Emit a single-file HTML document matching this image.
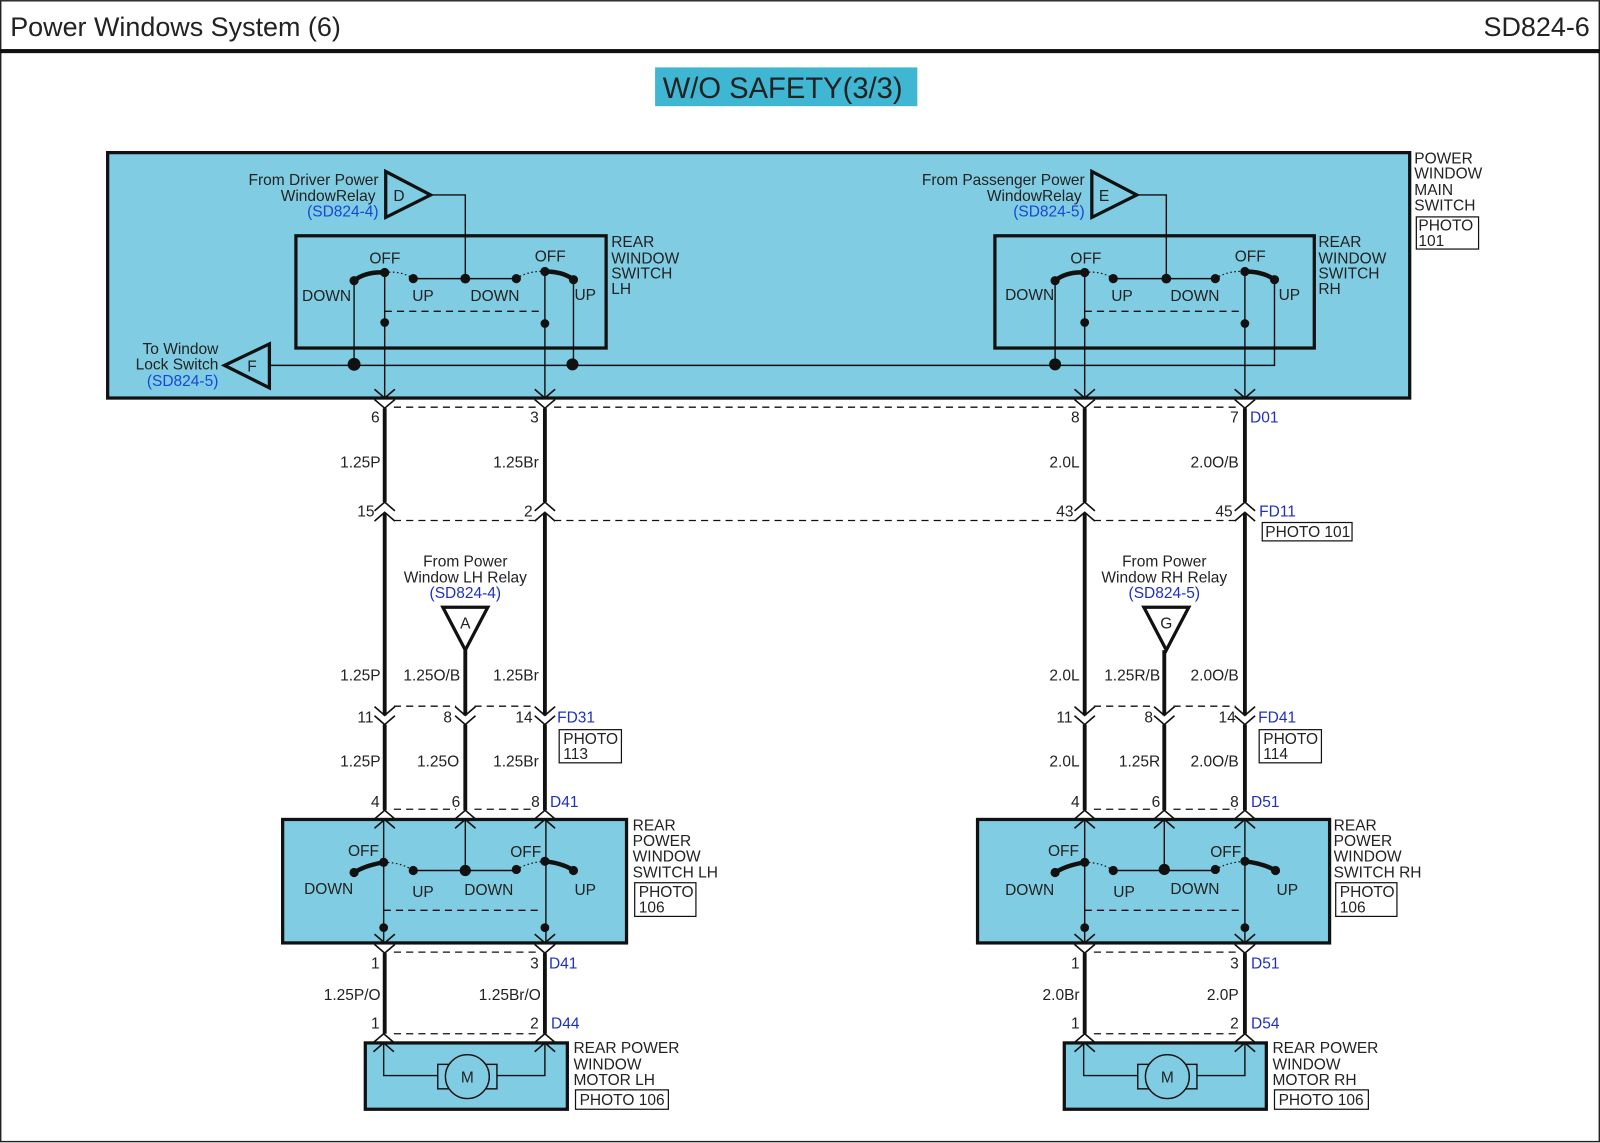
<!DOCTYPE html>
<html><head><meta charset="utf-8"><title>Power Windows System (6)</title>
<style>
html,body{margin:0;padding:0;background:#fff;width:1600px;height:1143px;overflow:hidden}
svg{display:block}
text{font-family:"Liberation Sans",sans-serif;font-size:15.2px;fill:#222}
.b{fill:#1f2fc0}.bb{fill:#1a45d8}
.e{text-anchor:end}.m{text-anchor:middle}
.box{fill:#80cde3;stroke:#111;stroke-width:3.2}
.sw{fill:none;stroke:#111;stroke-width:3.2}
.t{fill:#80cde3;stroke:#111;stroke-width:3.2;stroke-linejoin:miter}
.th{fill:none;stroke:#111;stroke-width:1.4}
.w{fill:none;stroke:#111;stroke-width:3.8}
.d{fill:none;stroke:#111;stroke-width:1.3;stroke-dasharray:7 5}
.dot{fill:none;stroke:#111;stroke-width:1.2;stroke-dasharray:1.5 2.5}
.arc{fill:none;stroke:#111;stroke-width:4.4}
.ch{fill:none;stroke:#111;stroke-width:1.6}
.ph{fill:#fff;stroke:#111;stroke-width:1.2}
</style></head><body>
<svg xmlns="http://www.w3.org/2000/svg" width="1600" height="1143" viewBox="0 0 1568 1120">
<defs>
<path id="v" class="ch" d="M-10,-8.6 L0,0 L10,-8.6"/>
<path id="a" class="ch" d="M-10,8.6 L0,0 L10,8.6"/>
</defs>
<rect x="0.7" y="0.7" width="1566.6" height="1118" fill="none" stroke="#222" stroke-width="1.4"/>
<rect x="0" y="48" width="1568" height="4" fill="#111"/>
<text x="10" y="35" style="font-size:26.4px">Power Windows System (6)</text>
<text x="1558" y="35" class="e" style="font-size:26.4px">SD824-6</text>
<rect x="642" y="66" width="257" height="38" fill="#3fb6d2"/>
<text x="767" y="96" class="m" style="font-size:28.6px">W/O SAFETY(3/3)</text>

<!-- main box -->
<rect class="box" x="105.5" y="149.5" width="1276" height="240.5"/>
<rect class="sw" x="290" y="231" width="304" height="110"/>
<rect class="sw" x="975" y="231" width="313" height="110"/>
<polygon class="t" points="378,168 378,213 422,191"/>
<text x="391" y="197" class="m">D</text>
<polygon class="t" points="1070,168 1070,213 1114,191"/>
<text x="1082" y="197" class="m">E</text>
<polygon class="t" points="264,337 264,380 220,358"/>
<text x="247" y="364" class="m">F</text>
<path class="th" d="M422,191H456V273M405,273H506M347,275V357M377,267V390M534,266V390M562,274V358"/>
<path class="th" d="M1114,191H1143V273M1091,273H1191M1034,275V357M1063,267V390M1220,266V390"/>
<path class="th" d="M264,358H1249V274"/>
<path class="d" d="M377,305H530M1063,305H1216"/>
<path class="dot" d="M377,267Q393,265 405,273M506,273Q518,265 534,266M1063,267Q1079,265 1091,273M1191,273Q1203,265 1220,266"/>
<path class="arc" d="M347,275Q358,266 377,267M534,266Q552,266 562,274M1034,275Q1045,266 1063,267M1220,266Q1238,266 1249,274"/>
<g fill="#111" stroke="#111" stroke-width="1">
<circle cx="347" cy="275" r="4"/><circle cx="377" cy="267" r="4"/><circle cx="405" cy="273" r="4"/><circle cx="456" cy="273" r="4.3"/><circle cx="506" cy="273" r="4"/><circle cx="534" cy="266" r="4"/><circle cx="562" cy="274" r="4"/>
<circle cx="377" cy="316" r="3.8"/><circle cx="534" cy="317" r="3.8"/><circle cx="347" cy="357" r="5.8"/><circle cx="561" cy="357" r="5.4"/>
<circle cx="1034" cy="275" r="4"/><circle cx="1063" cy="267" r="4"/><circle cx="1091" cy="273" r="4"/><circle cx="1143" cy="273" r="4.3"/><circle cx="1191" cy="273" r="4"/><circle cx="1220" cy="266" r="4"/><circle cx="1249" cy="274" r="4"/>
<circle cx="1063" cy="316" r="3.8"/><circle cx="1220" cy="317" r="3.8"/><circle cx="1034" cy="357" r="5.4"/>
</g>
<text x="371" y="181" class="e">From Driver Power</text><text x="368" y="197" class="e">WindowRelay</text><text x="371" y="212" class="e bb">(SD824-4)</text>
<text x="1063" y="181" class="e">From Passenger Power</text><text x="1060" y="197" class="e">WindowRelay</text><text x="1063" y="212" class="e bb">(SD824-5)</text>
<text x="214" y="347" class="e">To Window</text><text x="214" y="362" class="e">Lock Switch</text><text x="214" y="378" class="e bb">(SD824-5)</text>
<text x="599" y="242">REAR</text><text x="599" y="258">WINDOW</text><text x="599" y="273">SWITCH</text><text x="599" y="288">LH</text>
<text x="1292" y="242">REAR</text><text x="1292" y="258">WINDOW</text><text x="1292" y="273">SWITCH</text><text x="1292" y="288">RH</text>
<text x="1386" y="160">POWER</text><text x="1386" y="175">WINDOW</text><text x="1386" y="191">MAIN</text><text x="1386" y="206">SWITCH</text>
<rect class="ph" x="1388" y="212.5" width="61" height="31.5"/><text x="1390" y="226">PHOTO</text><text x="1390" y="241">101</text>
<text x="362" y="258">OFF</text><text x="524" y="256">OFF</text><text x="296" y="295">DOWN</text><text x="404" y="295">UP</text><text x="461" y="295">DOWN</text><text x="563" y="294">UP</text>
<text x="1049" y="258">OFF</text><text x="1210" y="256">OFF</text><text x="985" y="294">DOWN</text><text x="1089" y="295">UP</text><text x="1147" y="295">DOWN</text><text x="1253" y="294">UP</text>

<!-- wires -->
<path class="w" d="M377,400V492M534,400V492M1063,400V492M1220,400V492M377,503V701M534,503V701M1063,503V701M1220,503V701M377,710V794M534,710V794M1063,710V794M1220,710V794M456,637V701M456,710V794M1141,637V701M1141,710V794M377,934V1013M534,934V1013M1063,934V1013M1220,934V1013"/>
<path class="d" d="M386,399H525M543,399H1054M1072,399H1211M386,510H525M543,510H1054M1072,510H1211M386,692H447M465,692H525M1072,692H1132M1150,692H1211M386,793H447M465,793H525M1072,793H1132M1150,793H1211M386,933H525M1072,933H1211M386,1013H525M1072,1013H1211"/>
<g>
<use href="#v" x="377" y="390"/><use href="#v" x="377" y="400"/><use href="#v" x="534" y="390"/><use href="#v" x="534" y="400"/><use href="#v" x="1063" y="390"/><use href="#v" x="1063" y="400"/><use href="#v" x="1220" y="390"/><use href="#v" x="1220" y="400"/>
<use href="#a" x="377" y="492"/><use href="#a" x="377" y="502"/><use href="#a" x="534" y="492"/><use href="#a" x="534" y="502"/><use href="#a" x="1063" y="492"/><use href="#a" x="1063" y="502"/><use href="#a" x="1220" y="492"/><use href="#a" x="1220" y="502"/>
<use href="#v" x="377" y="701"/><use href="#v" x="377" y="710"/><use href="#v" x="456" y="701"/><use href="#v" x="456" y="710"/><use href="#v" x="534" y="701"/><use href="#v" x="534" y="710"/>
<use href="#v" x="1063" y="701"/><use href="#v" x="1063" y="710"/><use href="#v" x="1141" y="701"/><use href="#v" x="1141" y="710"/><use href="#v" x="1220" y="701"/><use href="#v" x="1220" y="710"/>
</g>
<polygon class="t" style="fill:#fff" points="434,595 478,595 456,637"/><text x="456" y="616" class="m">A</text>
<polygon class="t" style="fill:#fff" points="1121,595 1165,595 1143,637"/><text x="1143" y="616" class="m">G</text>

<text x="373" y="458" class="e">1.25P</text><text x="528" y="458" class="e">1.25Br</text><text x="1058" y="458" class="e">2.0L</text><text x="1214" y="458" class="e">2.0O/B</text>
<text x="372" y="414" class="e">6</text><text x="528" y="414" class="e">3</text><text x="1058" y="414" class="e">8</text><text x="1214" y="414" class="e">7</text><text x="1225" y="414" class="b">D01</text>
<text x="367" y="506" class="e">15</text><text x="522" y="506" class="e">2</text><text x="1052" y="506" class="e">43</text><text x="1208" y="506" class="e">45</text><text x="1234" y="506" class="b">FD11</text>
<rect class="ph" x="1237" y="512" width="88" height="18"/><text x="1240" y="526">PHOTO 101</text>
<text x="456" y="555" class="m">From Power</text><text x="456" y="571" class="m">Window LH Relay</text><text x="456" y="586" class="m b">(SD824-4)</text>
<text x="1141" y="555" class="m">From Power</text><text x="1141" y="571" class="m">Window RH Relay</text><text x="1141" y="586" class="m b">(SD824-5)</text>
<text x="373" y="667" class="e">1.25P</text><text x="451" y="667" class="e">1.25O/B</text><text x="528" y="667" class="e">1.25Br</text><text x="1058" y="667" class="e">2.0L</text><text x="1137" y="667" class="e">1.25R/B</text><text x="1214" y="667" class="e">2.0O/B</text>
<text x="366" y="708" class="e">11</text><text x="443" y="708" class="e">8</text><text x="522" y="708" class="e">14</text><text x="546" y="708" class="b">FD31</text>
<text x="1051" y="708" class="e">11</text><text x="1130" y="708" class="e">8</text><text x="1211" y="708" class="e">14</text><text x="1233" y="708" class="b">FD41</text>
<rect class="ph" x="548" y="715" width="61" height="32.5"/><text x="552" y="729">PHOTO</text><text x="552" y="744">113</text>
<rect class="ph" x="1234" y="715" width="61" height="32.5"/><text x="1238" y="729">PHOTO</text><text x="1238" y="744">114</text>
<text x="373" y="751" class="e">1.25P</text><text x="450" y="751" class="e">1.25O</text><text x="528" y="751" class="e">1.25Br</text><text x="1058" y="751" class="e">2.0L</text><text x="1137" y="751" class="e">1.25R</text><text x="1214" y="751" class="e">2.0O/B</text>
<text x="372" y="791" class="e">4</text><text x="451" y="791" class="e">6</text><text x="529" y="791" class="e">8</text><text x="539" y="791" class="b">D41</text>
<text x="1058" y="791" class="e">4</text><text x="1137" y="791" class="e">6</text><text x="1214" y="791" class="e">8</text><text x="1226" y="791" class="b">D51</text>

<!-- rear switches -->
<rect class="box" x="277" y="803" width="337" height="121"/>
<rect class="box" x="958" y="803" width="345" height="121"/>
<path class="th" d="M376,803V924M456,803V853M535,803V924M405,853H506"/>
<path class="th" d="M1063,803V924M1141,803V853M1220,803V924M1091,853H1191"/>
<path class="d" d="M376,892H530M1063,892H1216"/>
<path class="dot" d="M376,845Q393,845 405,853M506,852Q518,845 534,844M1063,845Q1079,845 1091,853M1191,852Q1203,845 1220,844"/>
<path class="arc" d="M347,855Q358,848 376,845M534,844Q552,846 562,853M1034,855Q1045,848 1063,845M1220,844Q1238,846 1250,853"/>
<g fill="#111" stroke="#111" stroke-width="1">
<circle cx="347" cy="855" r="4"/><circle cx="376" cy="845" r="4"/><circle cx="405" cy="853" r="4"/><circle cx="456" cy="853" r="5"/><circle cx="506" cy="852" r="4"/><circle cx="534" cy="844" r="4"/><circle cx="562" cy="853" r="4"/><circle cx="376" cy="909" r="3.8"/><circle cx="534" cy="909" r="3.8"/>
<circle cx="1034" cy="855" r="4"/><circle cx="1063" cy="845" r="4"/><circle cx="1091" cy="853" r="4"/><circle cx="1141" cy="852" r="5"/><circle cx="1191" cy="852" r="4"/><circle cx="1220" cy="844" r="4"/><circle cx="1250" cy="853" r="4"/><circle cx="1063" cy="909" r="3.8"/><circle cx="1220" cy="909" r="3.8"/>
</g>
<g>
<use href="#a" x="377" y="794"/><use href="#a" x="377" y="803"/><use href="#a" x="456" y="794"/><use href="#a" x="456" y="803"/><use href="#a" x="534" y="794"/><use href="#a" x="534" y="803"/>
<use href="#a" x="1063" y="794"/><use href="#a" x="1063" y="803"/><use href="#a" x="1141" y="794"/><use href="#a" x="1141" y="803"/><use href="#a" x="1220" y="794"/><use href="#a" x="1220" y="803"/>
<use href="#v" x="377" y="924"/><use href="#v" x="377" y="934"/><use href="#v" x="534" y="924"/><use href="#v" x="534" y="934"/><use href="#v" x="1063" y="924"/><use href="#v" x="1063" y="934"/><use href="#v" x="1220" y="924"/><use href="#v" x="1220" y="934"/>
</g>
<text x="341" y="839">OFF</text><text x="500" y="840">OFF</text><text x="298" y="876">DOWN</text><text x="404" y="879">UP</text><text x="455" y="877">DOWN</text><text x="563" y="877">UP</text>
<text x="1027" y="839">OFF</text><text x="1186" y="840">OFF</text><text x="985" y="877">DOWN</text><text x="1091" y="879">UP</text><text x="1147" y="876">DOWN</text><text x="1251" y="877">UP</text>
<text x="620" y="814">REAR</text><text x="620" y="829">POWER</text><text x="620" y="844">WINDOW</text><text x="620" y="860">SWITCH LH</text>
<rect class="ph" x="622" y="865" width="60" height="33"/><text x="626" y="879">PHOTO</text><text x="626" y="894">106</text>
<text x="1307" y="814">REAR</text><text x="1307" y="829">POWER</text><text x="1307" y="844">WINDOW</text><text x="1307" y="860">SWITCH RH</text>
<rect class="ph" x="1309" y="865" width="60" height="33"/><text x="1313" y="879">PHOTO</text><text x="1313" y="894">106</text>
<text x="372" y="949" class="e">1</text><text x="528" y="949" class="e">3</text><text x="538" y="949" class="b">D41</text>
<text x="1058" y="949" class="e">1</text><text x="1214" y="949" class="e">3</text><text x="1226" y="949" class="b">D51</text>
<text x="373" y="980" class="e">1.25P/O</text><text x="530" y="980" class="e">1.25Br/O</text><text x="1058" y="980" class="e">2.0Br</text><text x="1214" y="980" class="e">2.0P</text>
<text x="372" y="1008" class="e">1</text><text x="528" y="1008" class="e">2</text><text x="540" y="1008" class="b">D44</text>
<text x="1058" y="1008" class="e">1</text><text x="1214" y="1008" class="e">2</text><text x="1226" y="1008" class="b">D54</text>

<!-- motors -->
<rect class="box" x="358" y="1022" width="198" height="65"/>
<rect class="box" x="1043" y="1022" width="198" height="65"/>
<path class="th" d="M376,1022V1054H429M534,1022V1054H487M1062,1022V1054H1115M1220,1022V1054H1173"/>
<rect class="th" x="429" y="1043" width="58" height="24"/>
<rect class="th" x="1115" y="1043" width="58" height="24"/>
<circle cx="458" cy="1055" r="21.5" fill="#80cde3" stroke="#111" stroke-width="1.4"/>
<circle cx="1144" cy="1055" r="21.5" fill="#80cde3" stroke="#111" stroke-width="1.4"/>
<text x="458" y="1061" class="m">M</text><text x="1144" y="1061" class="m">M</text>
<g>
<use href="#a" x="376" y="1013"/><use href="#a" x="376" y="1022"/><use href="#a" x="534" y="1013"/><use href="#a" x="534" y="1022"/>
<use href="#a" x="1063" y="1013"/><use href="#a" x="1063" y="1022"/><use href="#a" x="1220" y="1013"/><use href="#a" x="1220" y="1022"/>
</g>
<text x="562" y="1032">REAR POWER</text><text x="562" y="1048">WINDOW</text><text x="562" y="1063">MOTOR LH</text>
<rect class="ph" x="564" y="1068" width="91" height="19"/><text x="568" y="1083">PHOTO 106</text>
<text x="1247" y="1032">REAR POWER</text><text x="1247" y="1048">WINDOW</text><text x="1247" y="1063">MOTOR RH</text>
<rect class="ph" x="1249" y="1068" width="92" height="19"/><text x="1253" y="1083">PHOTO 106</text>
</svg>
</body></html>
